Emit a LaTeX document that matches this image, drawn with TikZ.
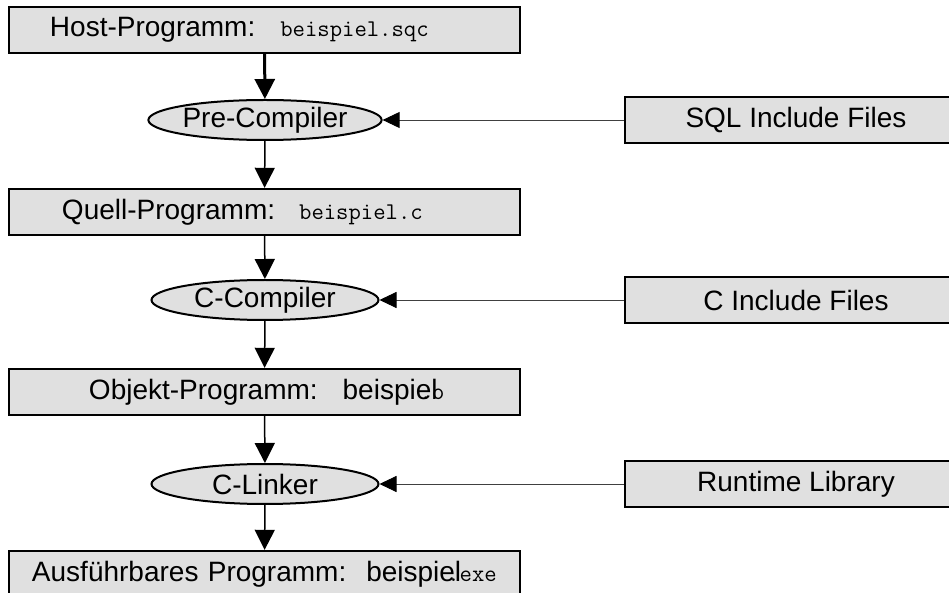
\documentclass[tikz,border=0pt]{standalone}
\usepackage{fontspec}
\setmainfont{Liberation Sans}
\usetikzlibrary{arrows.meta,shapes.geometric}
\definecolor{boxgray}{gray}{0.88}
\newcommand{\fname}[1]{{\fontsize{12pt}{14pt}\selectfont\ttfamily #1}}

\begin{document}
\begin{tikzpicture}[x=0.5pt,y=-0.5pt,
    txt/.style={font=\fontsize{14pt}{16pt}\selectfont},
    prog/.style={txt, draw, line width=1.2pt, fill=boxgray, minimum height=23pt,
        text width=255.5pt, inner xsep=0pt, inner ysep=0pt, align=left},
    tool/.style={txt, ellipse, draw, line width=1pt, fill=boxgray,
        minimum width=113.5pt, minimum height=20pt, inner sep=0pt},
    incl/.style={txt, draw, line width=1.2pt, fill=boxgray,
        minimum width=171pt, minimum height=23pt},
    flow/.style={-{Triangle[width=10pt,length=10pt]}, line width=0.75pt},
    feed/.style={-{Triangle[width=8pt,length=8.5pt,color=black]}, line width=0.45pt, draw=black!75}
]
    \useasboundingbox (0,0) rectangle (949,593);
    %%programs
    \node[prog] (host) at (264.5,30)
        {\hspace*{20.5pt}Host-Programm:\hspace{12.5pt}\fname{beispiel.sqc}};
    \node[prog] (quell) at (264.5,212)
        {\hspace*{26.5pt}Quell-Programm:\hspace{12pt}\fname{beispiel.c}};
    \node[prog] (objekt) at (264.5,392)
        {\hspace*{40pt}Objekt-Programm:\hspace{12.5pt}beispiel\kern-9pt\fname{.o}};
    \node[prog] (exe) at (264.5,574)
        {\hspace*{11.5pt}Ausführbares Programm:\hspace{10pt}beispiel\kern-7pt\fname{.exe}};
    %%tools
    \node[tool] (precomp) at (265,120) {Pre-Compiler};
    \node[tool] (ccomp) at (265,300) {C-Compiler};
    \node[tool] (linker) at (265,484) {C-Linker};
    %%includes
    \node[incl] (sqlinc) at (796,120) {SQL Include Files};
    \node[incl] (cinc) at (796,300) {C Include Files};
    \node[incl] (rtlib) at (796,484) {Runtime Library};
    %%flow
    \draw[flow, line width=1.5pt] (host) -- (precomp);
    \draw[flow] (precomp) -- (quell);
    \draw[flow] (quell) -- (ccomp);
    \draw[flow] (ccomp) -- (objekt);
    \draw[flow] (objekt) -- (linker);
    \draw[flow] (linker) -- (exe);
    %%feeds
    \draw[feed] (sqlinc) -- (precomp);
    \draw[feed] (cinc) -- (ccomp);
    \draw[feed] (rtlib) -- (linker);
\end{tikzpicture}
\end{document}
